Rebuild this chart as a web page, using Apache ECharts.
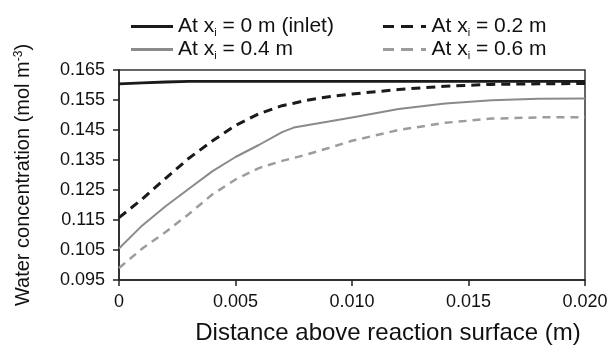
<!DOCTYPE html>
<html>

<head>
  <meta charset="UTF-8">
  <title>Water concentration profile</title>
  <style>
    body { margin: 0; background: #fff; }
  </style>
</head>

<body>
  <div id="main" style="width: 612px; height: 346px;"></div>
  <script src="https://cdn.jsdelivr.net/npm/echarts@6/dist/echarts.min.js"></script>
  <script>
    // distance above reaction surface (m)
    const distance = [0, 0.001, 0.002, 0.003, 0.004, 0.005, 0.006, 0.007, 0.0075, 0.008, 0.009, 0.010, 0.012, 0.014, 0.016, 0.018, 0.020];

    const names = ['At x_i = 0 m (inlet)', 'At x_i = 0.2 m', 'At x_i = 0.4 m', 'At x_i = 0.6 m'];

    // water concentration (mol m-3)
    const inlet = [0.1604, 0.1607, 0.1610, 0.1612, 0.1612, 0.1612, 0.1612, 0.1612, 0.1612, 0.1612, 0.1612, 0.1612, 0.1612, 0.1612, 0.1612, 0.1612, 0.1612];
    const at02 = [0.1158, 0.1220, 0.1289, 0.1356, 0.1413, 0.1465, 0.1504, 0.1531, 0.1539, 0.1548, 0.1561, 0.1570, 0.1585, 0.1596, 0.1602, 0.1604, 0.1605];
    const at04 = [0.1055, 0.1132, 0.1196, 0.1254, 0.1312, 0.1360, 0.1400, 0.1443, 0.1458, 0.1465, 0.1478, 0.1492, 0.1520, 0.1538, 0.1549, 0.1554, 0.1555];
    const at06 = [0.0990, 0.1055, 0.1110, 0.1170, 0.1235, 0.1285, 0.1323, 0.1347, 0.1357, 0.1367, 0.1390, 0.1414, 0.1450, 0.1474, 0.1488, 0.1492, 0.1493];

    const xTicks = ['0', '0.005', '0.010', '0.015', '0.020'];

    const pairs = (ys) => distance.map((x, i) => [x, ys[i]]);
    const font = '"Liberation Sans", Arial, sans-serif';

    // legend keys: solid bar, or "— — ·" dashes
    const solidIcon = 'path://M0,0h43v3h-43z';
    const dashIcon = 'path://M0,0h11v3h-11z M18,0h12v3h-12z M38,0h5v3h-5z';

    const legendText = {
      fontFamily: font,
      fontSize: 21,
      color: '#111',
      rich: {
        sub: { fontSize: 11, verticalAlign: 'bottom', padding: [12, 0, 0, 0], fontFamily: font, color: '#111' }
      }
    };
    const legendFormatter = (name) => name.replace('x_i', 'x{sub|i}');

    const chart = echarts.init(document.getElementById('main'));
    chart.setOption({
      animation: false,
      grid: {
        left: 119, right: 27, top: 70, bottom: 66,
        containLabel: false, outerBoundsMode: 'none',
        show: true, borderColor: '#333', borderWidth: 1.5, backgroundColor: 'transparent'
      },
      legend: [{
        data: [{ name: names[0], icon: solidIcon }, { name: names[2], icon: solidIcon }],
        orient: 'vertical',
        left: 126, top: 11,
        itemWidth: 42, itemHeight: 3, itemGap: 1,
        formatter: legendFormatter,
        textStyle: legendText
      }, {
        data: [{ name: names[1], icon: dashIcon }, { name: names[3], icon: dashIcon }],
        orient: 'vertical',
        left: 378, top: 11,
        itemWidth: 44, itemHeight: 3, itemGap: 1,
        formatter: legendFormatter,
        textStyle: legendText
      }],
      xAxis: {
        type: 'value',
        min: 0, max: 0.02, interval: 0.005,
        name: 'Distance above reaction surface (m)',
        nameLocation: 'middle',
        nameGap: 41,
        nameTextStyle: { fontFamily: font, fontSize: 24, color: '#111', padding: [0, 0, 0, 72] },
        axisLine: { lineStyle: { color: '#222', width: 1.5 } },
        axisTick: { inside: false, length: 6, lineStyle: { color: '#222', width: 1.5 } },
        splitLine: { show: false },
        axisLabel: {
          margin: 13, fontFamily: font, fontSize: 18, color: '#111',
          formatter: (v) => xTicks[Math.round(v / 0.005)]
        }
      },
      yAxis: {
        type: 'value',
        min: 0.095, max: 0.165, interval: 0.01,
        name: 'Water concentration (mol m{sup|-3})',
        nameLocation: 'middle',
        nameRotate: 90,
        nameGap: 86,
        nameTextStyle: {
          fontFamily: font, fontSize: 20, color: '#111',
          rich: { sup: { fontSize: 12, verticalAlign: 'top', padding: [0, 0, 8, 0], fontFamily: font, color: '#111' } }
        },
        axisLine: { show: true, lineStyle: { color: '#222', width: 1.5 } },
        axisTick: { show: true, inside: false, length: 6, lineStyle: { color: '#222', width: 1.5 } },
        splitLine: { show: false },
        axisLabel: {
          margin: 14, fontFamily: font, fontSize: 18, color: '#111',
          formatter: (v) => v.toFixed(3)
        }
      },
      series: [{
        name: names[0], type: 'line', data: pairs(inlet),
        symbol: 'none',
        lineStyle: { color: '#1a1a1a', width: 2.8 }, itemStyle: { color: '#1a1a1a' }
      }, {
        name: names[1], type: 'line', data: pairs(at02),
        symbol: 'none',
        lineStyle: { color: '#1a1a1a', width: 3, type: [9, 6] }, itemStyle: { color: '#1a1a1a' }
      }, {
        name: names[2], type: 'line', data: pairs(at04),
        symbol: 'none',
        lineStyle: { color: '#8a8a8a', width: 2 }, itemStyle: { color: '#8a8a8a' }
      }, {
        name: names[3], type: 'line', data: pairs(at06),
        symbol: 'none',
        lineStyle: { color: '#9c9c9c', width: 2.5, type: [8, 6] }, itemStyle: { color: '#9c9c9c' }
      }]
    });
  </script>
</body>

</html>
